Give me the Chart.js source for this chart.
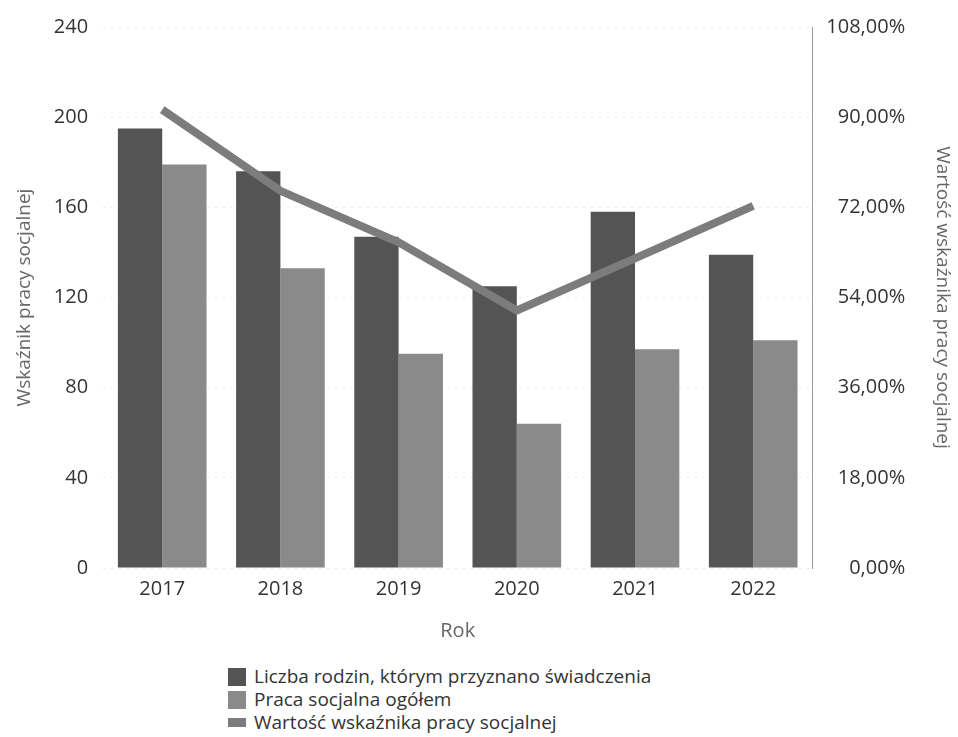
<!DOCTYPE html>
<html>
<head>
<meta charset="utf-8">
<script src="https://cdn.jsdelivr.net/npm/chart.js@4/dist/chart.umd.min.js"></script>
<style>
  body { margin: 0; background: #fff; font-family: "Open Sans", sans-serif; }
  #wrap { position: relative; width: 958px; height: 650px; }
  #legend { margin: 15px 0 0 228px; color: #333; font-size: 19px; line-height: 23px; }
  #legend div { display: flex; align-items: center; }
  #legend span.box { display: inline-block; width: 18px; margin-right: 8px; }
</style>
</head>
<body>
<div id="wrap"><canvas id="chart"></canvas></div>
<div id="legend"></div>
<script>
const years = ["2017", "2018", "2019", "2020", "2021", "2022"];
const families = [195, 176, 147, 125, 158, 139];
const socialWork = [179, 133, 95, 64, 97, 101];
const indicator = [91.5, 75.3, 65.0, 51.4, 61.8, 72.3];

const darkGray = "#545454";
const lightGray = "#8a8a8a";
const lineGray = "#7c7c7c";

const pct = (v) => v.toFixed(2).replace(".", ",") + "%";
const tickFont = { family: "Open Sans", size: 20 };
const titleFont = { family: "Open Sans", size: 19 };

const chart = new Chart(document.getElementById("chart"), {
  type: "bar",
  data: {
    labels: years,
    datasets: [
      {
        type: "line",
        label: "Wartość wskaźnika pracy socjalnej",
        data: indicator,
        yAxisID: "y1",
        borderColor: lineGray,
        backgroundColor: lineGray,
        borderWidth: 8,
        pointRadius: 0,
        tension: 0,
        order: 0,
      },
      {
        label: "Liczba rodzin, którym przyznano świadczenia",
        data: families,
        backgroundColor: darkGray,
        yAxisID: "y",
        order: 1,
      },
      {
        label: "Praca socjalna ogółem",
        data: socialWork,
        backgroundColor: lightGray,
        yAxisID: "y",
        order: 1,
      },
    ],
  },
  options: {
    responsive: true,
    maintainAspectRatio: false,
    animation: false,
    layout: { padding: { top: 18, left: 13, right: 0, bottom: 7 } },
    datasets: { bar: { categoryPercentage: 0.75, barPercentage: 1 } },
    plugins: { legend: { display: false }, tooltip: { enabled: false } },
    scales: {
      x: {
        grid: { display: false, drawTicks: false },
        border: { display: false },
        ticks: { color: "#333", padding: 9, font: tickFont },
        title: {
          display: true,
          text: "Rok",
          color: "#666",
          padding: { top: 9, bottom: 0 },
          font: { family: "Open Sans", size: 20 },
        },
      },
      y: {
        position: "left",
        min: 0,
        max: 240,
        ticks: { stepSize: 40, color: "#333", padding: 15, font: tickFont },
        grid: { color: "#ececec", drawTicks: false },
        border: { display: false, dash: [2, 6] },
        title: {
          display: true,
          text: "Wskaźnik pracy socjalnej",
          color: "#666",
          padding: { top: 0, bottom: 3 },
          font: titleFont,
        },
      },
      y1: {
        position: "right",
        min: 0,
        max: 108,
        ticks: {
          stepSize: 18,
          color: "#333",
          padding: 7,
          crossAlign: "far",
          callback: (v) => pct(v),
          font: tickFont,
        },
        grid: { display: false, drawTicks: false },
        border: { display: true, color: "#999", width: 1 },
      },
      // title-only axis so the percent labels stay right-aligned
      y2: {
        position: "right",
        min: 0,
        max: 108,
        ticks: { display: false },
        grid: { display: false, drawTicks: false },
        border: { display: false },
        title: {
          display: true,
          text: "Wartość wskaźnika pracy socjalnej",
          color: "#666",
          padding: { top: 4, bottom: 26 },
          font: titleFont,
        },
      },
    },
  },
});

// legend as a vertical list below the chart
const legend = document.getElementById("legend");
[1, 2, 0].forEach((i) => {
  const ds = chart.data.datasets[i];
  const row = document.createElement("div");
  const box = document.createElement("span");
  box.className = "box";
  box.style.background = ds.backgroundColor;
  box.style.height = ds.type === "line" ? "9px" : "18px";
  row.appendChild(box);
  row.appendChild(document.createTextNode(ds.label));
  legend.appendChild(row);
});
</script>
</body>
</html>
